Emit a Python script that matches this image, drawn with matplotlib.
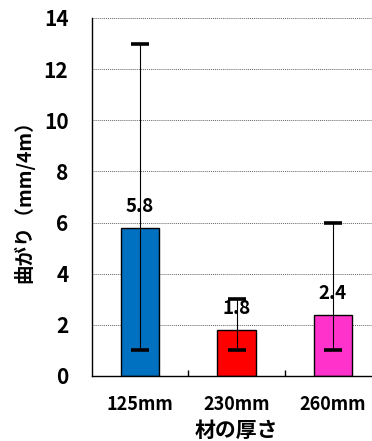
import matplotlib
matplotlib.use("Agg")
import matplotlib.pyplot as plt

plt.rcParams['font.family'] = ['Noto Sans CJK JP', 'DejaVu Sans']

categories = ["125mm", "230mm", "260mm"]
means = [5.8, 1.8, 2.4]
mins = [1, 1, 1]
maxs = [13, 3, 6]
colors = ["#0070C0", "#FF0000", "#FF33CC"]
yticks = [0, 2, 4, 6, 8, 10, 12, 14]

fig = plt.figure(figsize=(3.72, 4.41), dpi=100)
ax = fig.add_axes([92 / 372, 65 / 441, 289 / 372, 358 / 441])

x = list(range(len(categories)))
ax.bar(x, means, width=0.4, color=colors, edgecolor="black", linewidth=1.0, zorder=2)

lower = [m - lo for m, lo in zip(means, mins)]
upper = [hi - m for m, hi in zip(means, maxs)]
ax.errorbar(x, means, yerr=[lower, upper], fmt="none", ecolor="black",
            elinewidth=0.8, capsize=6.5, capthick=2.6, zorder=4)

for xi, m in zip(x, means):
    ax.text(xi, m + 0.45, f"{m}", ha="center", va="bottom",
            fontsize=13.5, fontweight="bold", zorder=3)

ax.set_xlim(-0.5, 2.5)
ax.set_ylim(0, 14)
ax.set_yticks(yticks)
ax.set_yticklabels([str(t) for t in yticks], fontsize=15, fontweight="bold")
ax.set_xticks(x)
ax.set_xticklabels(categories, fontsize=13, fontweight="bold")
ax.set_xticks([0.5, 1.5], minor=True)
ax.tick_params(axis="x", which="major", length=0, pad=14)
ax.tick_params(axis="x", which="minor", length=4, direction="in", width=1)
ax.tick_params(axis="y", length=0, pad=17)

ax.yaxis.grid(True, linestyle=(0, (1, 1)), color="#666666", linewidth=0.7, zorder=0)
ax.set_axisbelow(True)

for side in ["top", "right"]:
    ax.spines[side].set_visible(False)
ax.spines["left"].set_linewidth(1.0)
ax.spines["bottom"].set_linewidth(1.0)

ax.set_ylabel("曲がり（mm/4m）", fontsize=14, fontweight="bold", labelpad=7)
ax.set_xlabel("材の厚さ", fontsize=15, fontweight="bold", labelpad=4)

fig.savefig("out.png", dpi=100)
